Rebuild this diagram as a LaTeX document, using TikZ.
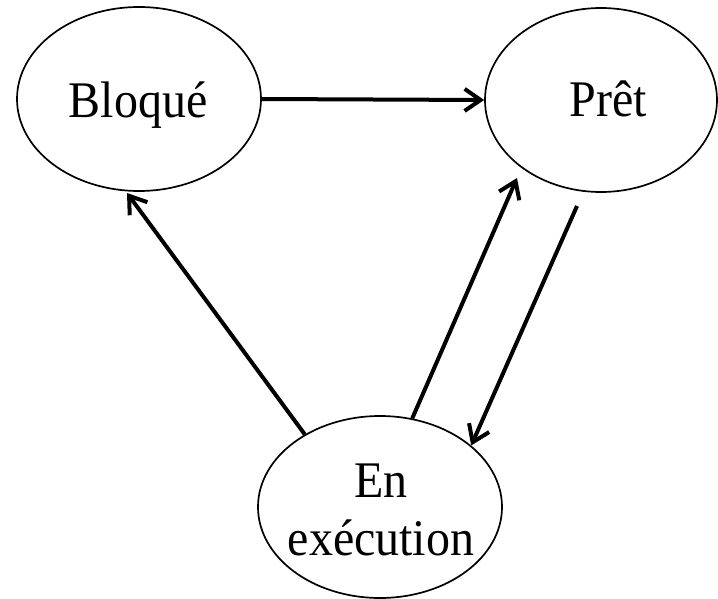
\documentclass[tikz,border=0pt]{standalone}
\usepackage{fontspec}
\setmainfont{Liberation Serif}
\usetikzlibrary{shapes.geometric,arrows.meta}
% state names are set slightly taller than wide
\newcommand{\tallname}[1]{\scalebox{1}[1.07]{#1}}
\begin{document}
\begin{tikzpicture}[x=1pt,y=-1pt,
  state/.style={ellipse,draw=black,line width=1.7pt,inner sep=0pt},
  lbl/.style={anchor=base,inner sep=0pt,font=\fontsize{48}{58}\selectfont,align=center},
  trans/.style={line width=4pt,-{Straight Barb[length=16pt,width=22pt,line width=4pt]}}]
\useasboundingbox (0,0) rectangle (718,599);

% states
\node[state,minimum width=244pt,minimum height=184pt] (b) at (139,99) {};
\node[state,minimum width=232pt,minimum height=184pt] (p) at (601,100) {};
\node[state,minimum width=244pt,minimum height=182pt] (e) at (380,507) {};

% state names (a two-line node sits on the baseline of its last line)
\node[lbl] (bt) at (138,118) {\tallname{Bloqué}};
\node[lbl] (pt) at (608,117) {\tallname{Prêt}};
\node[lbl] (et) at (381,555) {\tallname{En}\\\tallname{exécution}};

% ends of the connectors that stop short of an ellipse
\coordinate (b-in) at ([shift={(-12,94)}]b.center);
\coordinate (p-in) at ([shift={(-84,78)}]p.center);
\coordinate (p-out) at ([shift={(-24,106)}]p.center);

% transitions
\draw[trans] (b.east) -- (p.west);
\draw[trans] (e.136) -- (b-in);
\draw[trans] (e.70) -- (p-in);
\draw[trans] (p-out) -- (e.34);
\end{tikzpicture}
\end{document}
